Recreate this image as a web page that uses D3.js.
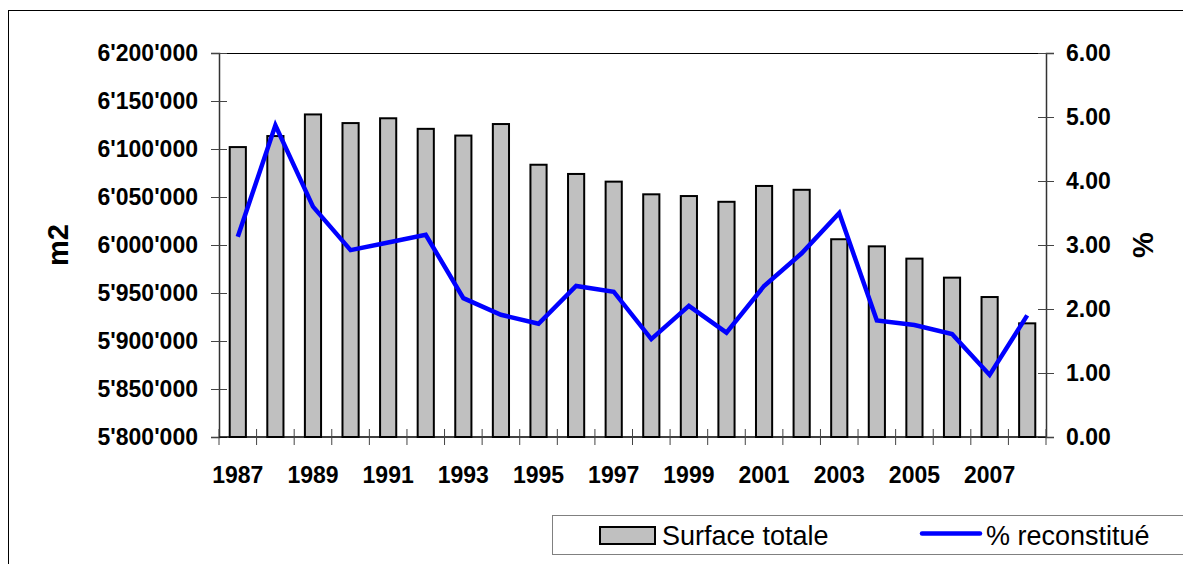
<!DOCTYPE html>
<html>
<head>
<meta charset="utf-8">
<script src="https://cdn.jsdelivr.net/npm/d3@7"></script>
<style>
  body { margin: 0; background: #fff; }
  svg text { font-family: "Liberation Sans", Arial, sans-serif; }
</style>
</head>
<body>
<div id="chart"></div>
<script>
// Data
var years = ["1987", "1988", "1989", "1990", "1991", "1992", "1993", "1994", "1995", "1996", "1997",
             "1998", "1999", "2000", "2001", "2002", "2003", "2004", "2005", "2006", "2007", "2008"];
var surface = [6102000, 6113500, 6136000, 6127000, 6132000, 6121000, 6114000, 6126000, 6083600, 6074000, 6066000,
               6052800, 6051000, 6045000, 6061500, 6057500, 6006000, 5998600, 5985800, 5966000, 5945800, 5918400];
var pct = [3.13, 4.87, 3.60, 2.92, 3.04, 3.16, 2.17, 1.91, 1.77, 2.36, 2.27,
           1.53, 2.05, 1.63, 2.36, 2.87, 3.50, 1.82, 1.75, 1.61, 0.97, 1.90];
var leftTicks = [5800000, 5850000, 5900000, 5950000, 6000000, 6050000, 6100000, 6150000, 6200000];
var rightTicks = [0, 1, 2, 3, 4, 5, 6];
var yearLabels = ["1987", "1989", "1991", "1993", "1995", "1997", "1999", "2001", "2003", "2005", "2007"];
var seriesNames = ["Surface totale", "% reconstitué"];

var width = 1183, height = 564;
var plot = {left: 219, right: 1046, top: 53, bottom: 437};

var svg = d3.select("#chart")
    .append("svg")
    .attr("width", width)
    .attr("height", height);

// outer frame (runs off the picture on right and bottom)
svg.append("rect")
    .attr("x", 8.5).attr("y", 10.5)
    .attr("width", 1300).attr("height", 700)
    .attr("fill", "none")
    .attr("stroke", "#000")
    .attr("stroke-width", 1);

var x = d3.scaleBand()
    .domain(years)
    .range([plot.left, plot.right])
    .paddingInner(0.57)
    .paddingOuter(0.285);

var yLeft = d3.scaleLinear()
    .domain([5800000, 6200000])
    .range([plot.bottom, plot.top]);

var yRight = d3.scaleLinear()
    .domain([0, 6])
    .range([plot.bottom, plot.top]);

var fmtLeft = function(v) { return d3.format(",")(v).replace(/,/g, "'"); };
var fmtRight = d3.format(".2f");

// top border of the plot
svg.append("line")
    .attr("x1", plot.left).attr("x2", plot.right)
    .attr("y1", plot.top + 0.5).attr("y2", plot.top + 0.5)
    .attr("stroke", "#000");

// bars
svg.selectAll(".bar")
    .data(years)
    .enter().append("rect")
    .attr("class", "bar")
    .attr("x", function(d) { return x(d); })
    .attr("width", x.bandwidth())
    .attr("y", function(d, i) { return yLeft(surface[i]); })
    .attr("height", function(d, i) { return plot.bottom - yLeft(surface[i]); })
    .attr("fill", "#c0c0c0")
    .attr("stroke", "#000")
    .attr("stroke-width", 2);

// left axis
var axL = svg.append("g")
    .attr("transform", "translate(" + plot.left + ",0)")
    .call(d3.axisLeft(yLeft).tickValues(leftTicks).tickFormat(fmtLeft).tickSize(8).tickPadding(13));
axL.select(".domain").attr("stroke", "#333").attr("stroke-width", 1.5);
axL.selectAll(".tick line").attr("x1", 8).attr("stroke", "#444");
axL.selectAll(".tick text")
    .style("font-size", "23px")
    .style("font-weight", "bold")
    .attr("fill", "#000");

// right axis
var axR = svg.append("g")
    .attr("transform", "translate(" + plot.right + ",0)")
    .call(d3.axisRight(yRight).tickValues(rightTicks).tickFormat(fmtRight).tickSize(8).tickPadding(12));
axR.select(".domain").attr("stroke", "#333").attr("stroke-width", 1.5);
axR.selectAll(".tick line").attr("x1", -8).attr("stroke", "#444");
axR.selectAll(".tick text")
    .style("font-size", "23px")
    .style("font-weight", "bold")
    .attr("fill", "#000");

// bottom axis: ticks between the categories, label every other year
svg.append("line")
    .attr("x1", plot.left).attr("x2", plot.right)
    .attr("y1", plot.bottom).attr("y2", plot.bottom)
    .attr("stroke", "#000")
    .attr("stroke-width", 1.5);

svg.selectAll(".xtick")
    .data(d3.range(years.length + 1))
    .enter().append("line")
    .attr("class", "xtick")
    .attr("x1", function(i) { return plot.left + i * x.step(); })
    .attr("x2", function(i) { return plot.left + i * x.step(); })
    .attr("y1", plot.bottom - 8)
    .attr("y2", plot.bottom + 8)
    .attr("stroke", "#444");

svg.selectAll(".xlabel")
    .data(yearLabels)
    .enter().append("text")
    .attr("class", "xlabel")
    .attr("x", function(d) { return x(d) + x.bandwidth() / 2; })
    .attr("y", 483)
    .attr("text-anchor", "middle")
    .style("font-size", "23px")
    .style("font-weight", "bold")
    .text(function(d) { return d; });

// line series
var line = d3.line()
    .x(function(d, i) { return x(years[i]) + x.bandwidth() / 2; })
    .y(function(d) { return yRight(d); });

svg.append("path")
    .datum(pct)
    .attr("d", line)
    .attr("fill", "none")
    .attr("stroke", "#0000ff")
    .attr("stroke-width", 4.5)
    .attr("stroke-linejoin", "miter");

// axis titles
svg.append("text")
    .attr("transform", "translate(68,245) rotate(-90)")
    .attr("text-anchor", "middle")
    .style("font-size", "29px")
    .style("font-weight", "bold")
    .text("m2");

svg.append("text")
    .attr("transform", "translate(1153,245) rotate(-90)")
    .attr("text-anchor", "middle")
    .style("font-size", "29px")
    .style("font-weight", "bold")
    .text("%");

// legend
var legend = svg.append("g");
legend.append("rect")
    .attr("x", 552.5).attr("y", 515.5)
    .attr("width", 700).attr("height", 39)
    .attr("fill", "#fff")
    .attr("stroke", "#808080");

legend.append("rect")
    .attr("x", 600).attr("y", 527)
    .attr("width", 55).attr("height", 17)
    .attr("fill", "#c0c0c0")
    .attr("stroke", "#000")
    .attr("stroke-width", 2);

legend.append("text")
    .attr("x", 662).attr("y", 545)
    .style("font-size", "27px")
    .text(seriesNames[0]);

legend.append("line")
    .attr("x1", 922).attr("x2", 980)
    .attr("y1", 533.5).attr("y2", 533.5)
    .attr("stroke", "#0000ff")
    .attr("stroke-width", 4.5)
    .attr("stroke-linecap", "round");

legend.append("text")
    .attr("x", 986).attr("y", 545)
    .style("font-size", "27px")
    .text(seriesNames[1]);
</script>
</body>
</html>
